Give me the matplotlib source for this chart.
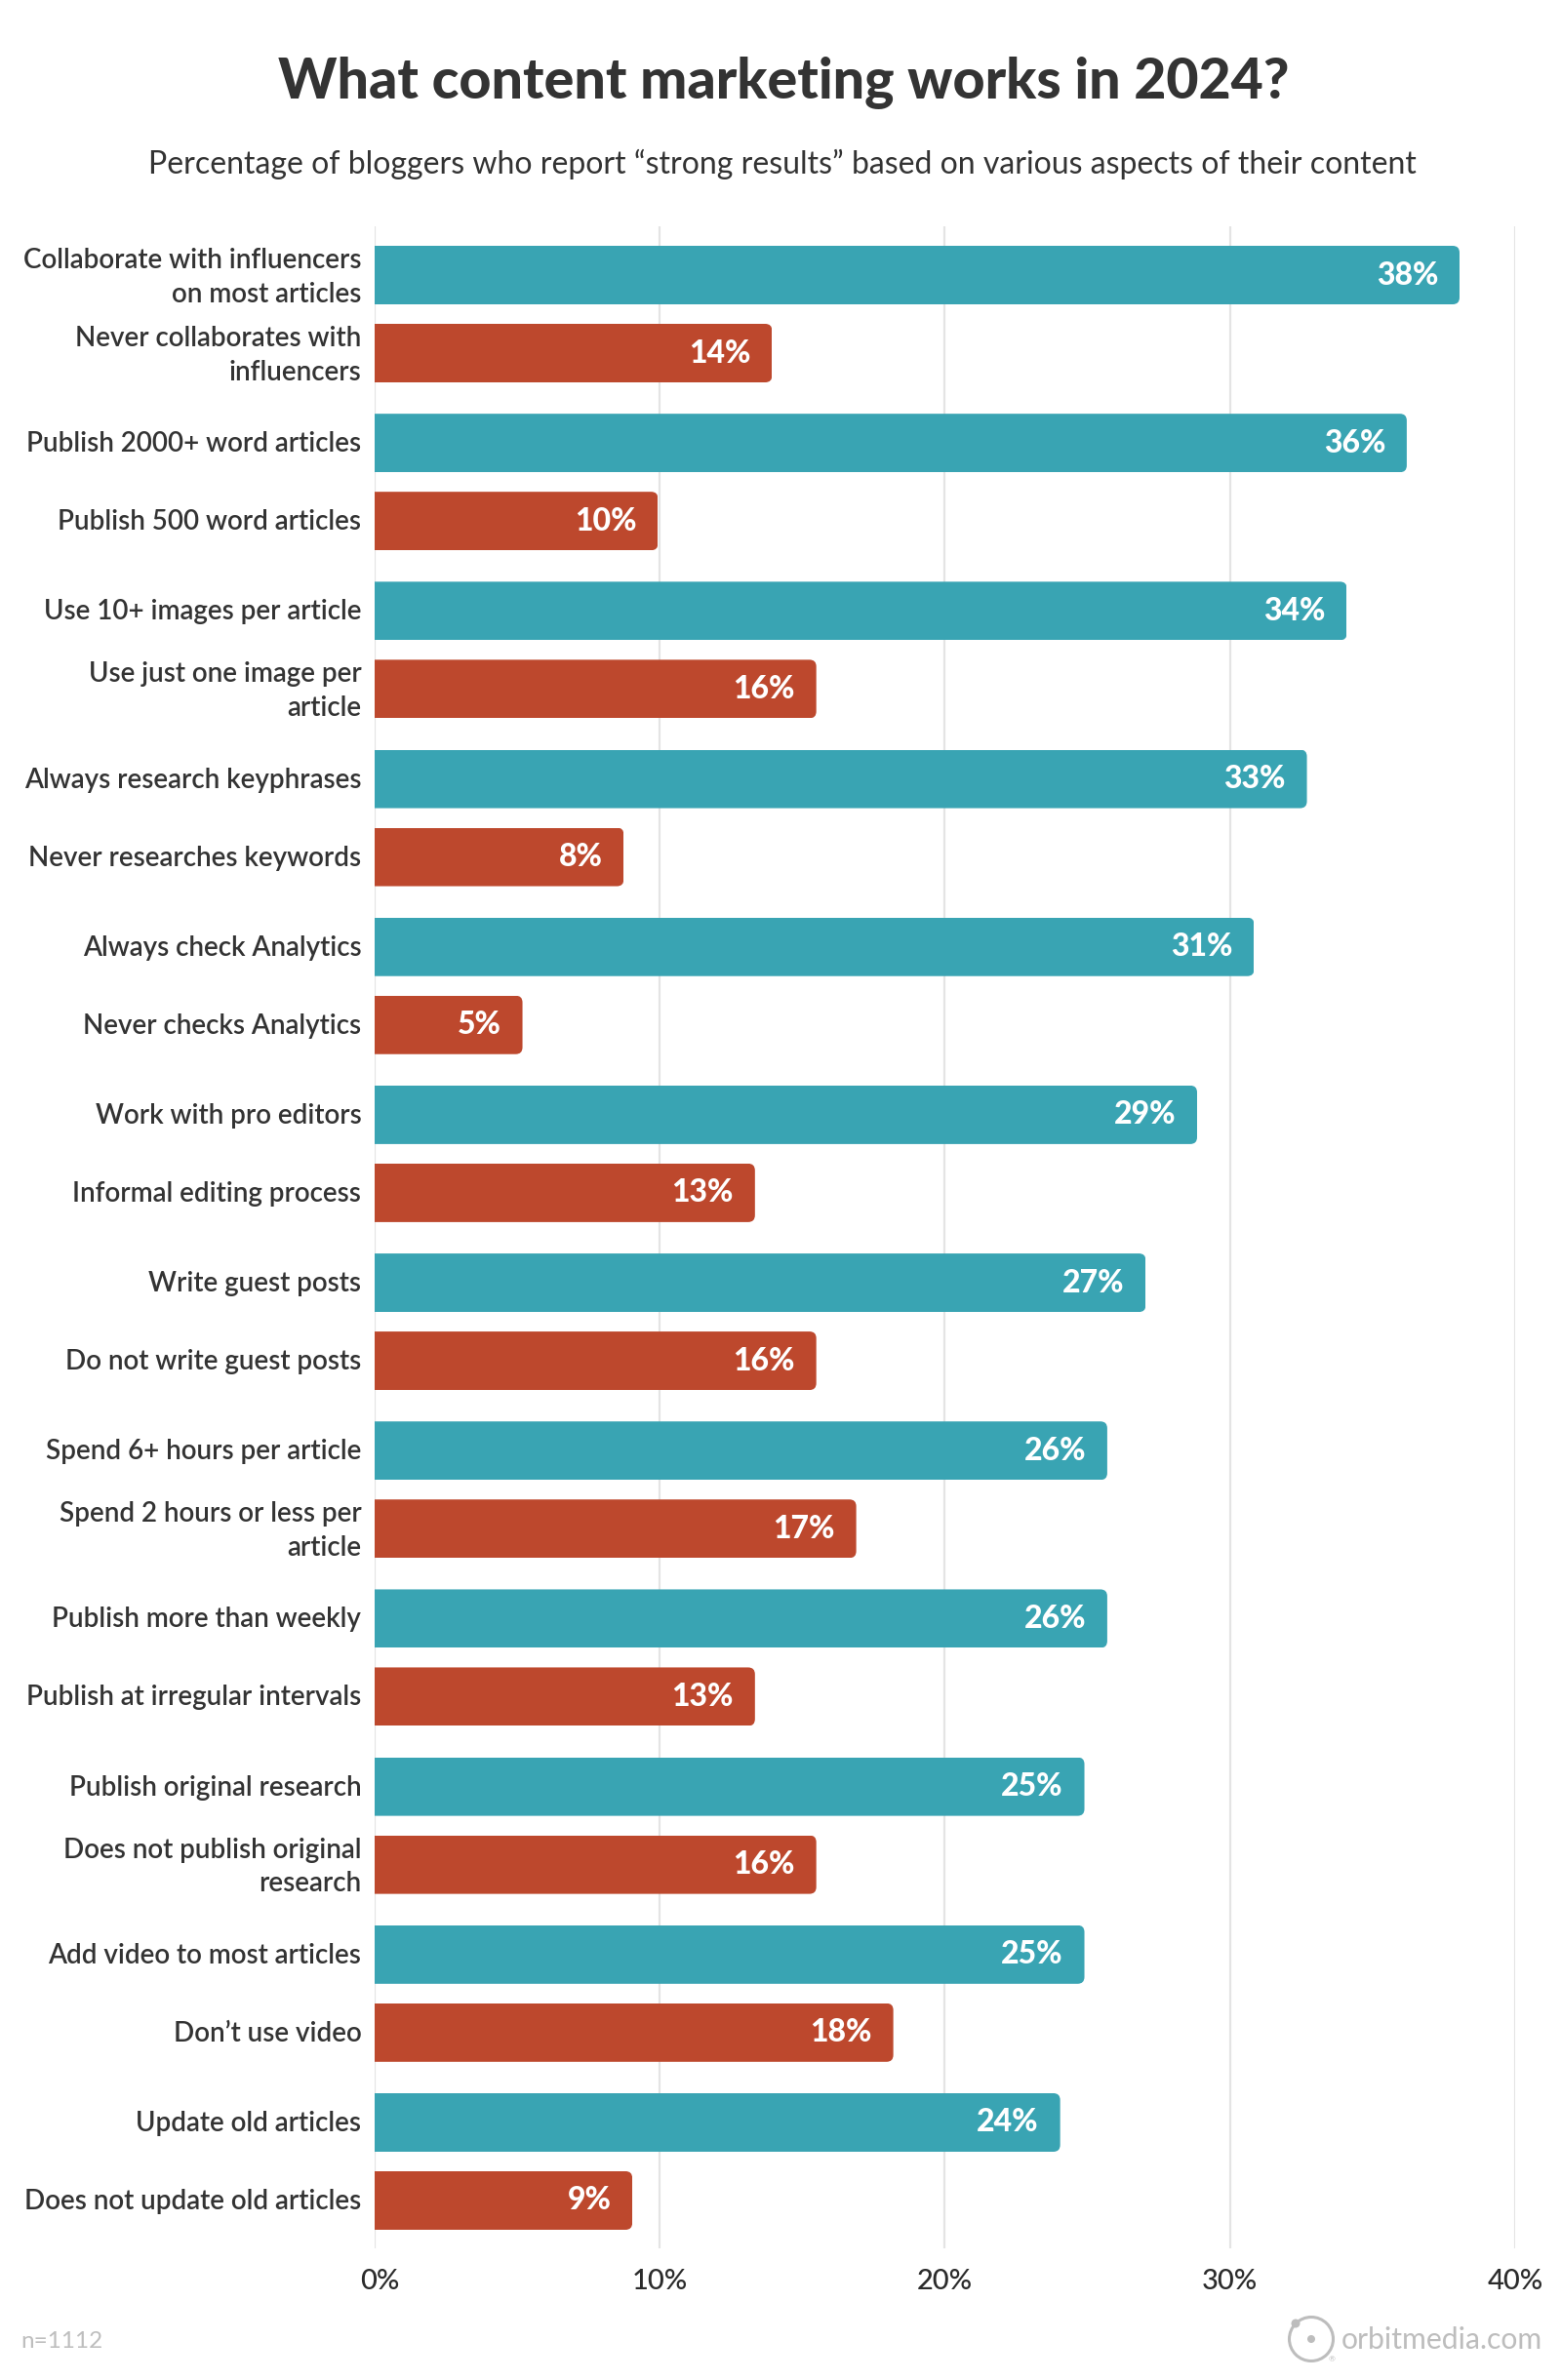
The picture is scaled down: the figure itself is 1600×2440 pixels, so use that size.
import matplotlib
matplotlib.use("Agg")
import matplotlib.pyplot as plt
from matplotlib.path import Path
from matplotlib.patches import Circle
from matplotlib.transforms import ScaledTranslation

title = "What content marketing works in 2024?"
subtitle = "Percentage of bloggers who report “strong results” based on various aspects of their content"

labels_a = ["Collaborate with influencers\non most articles", "Publish 2000+ word articles",
            "Use 10+ images per article", "Always research keyphrases", "Always check Analytics",
            "Work with pro editors", "Write guest posts", "Spend 6+ hours per article",
            "Publish more than weekly", "Publish original research", "Add video to most articles",
            "Update old articles"]
labels_b = ["Never collaborates with\ninfluencers", "Publish 500 word articles",
            "Use just one image per\narticle", "Never researches keywords", "Never checks Analytics",
            "Informal editing process", "Do not write guest posts", "Spend 2 hours or less per\narticle",
            "Publish at irregular intervals", "Does not publish original\nresearch", "Don’t use video",
            "Does not update old articles"]
values_a = [38.05, 36.2, 34.1, 32.7, 30.85, 28.85, 27.05, 25.7, 25.7, 24.9, 24.9, 24.05]
values_b = [13.95, 9.95, 15.5, 8.75, 5.2, 13.35, 15.5, 16.9, 13.35, 15.5, 18.2, 9.05]
shown_a = ["38%", "36%", "34%", "33%", "31%", "29%", "27%", "26%", "26%", "25%", "25%", "24%"]
shown_b = ["14%", "10%", "16%", "8%", "5%", "13%", "16%", "17%", "13%", "16%", "18%", "9%"]
x_ticks = [0, 10, 20, 30, 40]
x_ticklabels = ["0%", "10%", "20%", "30%", "40%"]

W, H = 1600, 2440
TEAL, RED = "#39A4B3", "#BD482D"
DARK = "#333333"
GREY = "#BDBDBD"
FONT = "Lato"

fig = plt.figure(figsize=(W / 100, H / 100), dpi=100, facecolor="white")
L, R, T, B = 383.5, 1553, 232, 2305
ax = fig.add_axes([L / W, 1 - B / H, (R - L) / W, (B - T) / H])
ax.set_xlim(0, 40)
ax.set_ylim(B - T, 0)
for s in ax.spines.values():
    s.set_visible(False)

PITCH, FIRST, STEP, BARH = 172.18, 50, 80, 60
pos_a = [FIRST + i * PITCH for i in range(len(values_a))]
pos_b = [p + STEP for p in pos_a]


def rounded(bar):
    x0, y0, w, h = bar.get_x(), bar.get_y(), bar.get_width(), bar.get_height()
    rx, ry = 7 * 40 / (R - L), 7
    x1, y1 = x0 + w, y0 + h
    return Path([(x0, y0), (x1 - rx, y0), (x1, y0), (x1, y0 + ry), (x1, y1 - ry), (x1, y1),
                 (x1 - rx, y1), (x0, y1), (x0, y0)],
                [Path.MOVETO, Path.LINETO, Path.CURVE3, Path.CURVE3, Path.LINETO, Path.CURVE3,
                 Path.CURVE3, Path.LINETO, Path.CLOSEPOLY])


for pos, vals, shown, col in ((pos_a, values_a, shown_a, TEAL), (pos_b, values_b, shown_b, RED)):
    bars = ax.barh(pos, vals, height=BARH, color=col, zorder=3, linewidth=0)
    for b, p, v, s in zip(bars, pos, vals, shown):
        b.set_clip_path(rounded(b), ax.transData)
        ax.annotate(s, (v, p), xytext=(-15.7, 0), textcoords="offset points", ha="right",
                    va="center", color="white", fontsize=23, fontweight="black",
                    family=FONT, zorder=4)

ax.set_axisbelow(True)
ax.set_xticks(x_ticks, x_ticklabels, fontsize=21, color="#2b2b2b", family=FONT, fontweight="medium")
ax.xaxis.grid(True, color="#E4E4E4", linewidth=1.6)
ax.yaxis.grid(False)
ax.tick_params(axis="x", length=0, pad=15)
ticks_y = pos_a + pos_b
ax.set_yticks(ticks_y, labels_a + labels_b, fontsize=20, color=DARK, family=FONT,
              fontweight="semibold", linespacing=1.42, ha="right", multialignment="right")
ax.tick_params(axis="y", length=0, pad=9.5)
for lab in ax.get_yticklabels():
    lift = 4.5 if "\n" in lab.get_text() else 1.5
    lab.set_transform(lab.get_transform() + ScaledTranslation(0, lift / 100, fig.dpi_scale_trans))
first = ax.get_xticklabels()[0]
first.set_transform(first.get_transform() + ScaledTranslation(6 / 100, 0, fig.dpi_scale_trans))

# page layer in pixel units
pg = fig.add_axes([0, 0, 1, 1], facecolor="none", zorder=5)
pg.set_xlim(0, W)
pg.set_ylim(H, 0)
pg.axis("off")
pg.text(803, 101.5, title, ha="center", va="baseline", fontsize=41.2, fontweight="black",
        color=DARK, family=FONT)
pg.text(802, 177.5, subtitle, ha="center", va="baseline", fontsize=23.05, color=DARK, family=FONT)
pg.text(21, 2407, "n=1112", ha="left", va="baseline", fontsize=17.5, color="#BEBEBE",
        family=FONT, fontweight="normal")
pg.text(1581, 2408, "orbitmedia.com", ha="right", va="baseline", fontsize=21.7, color=GREY, family=FONT)
pg.add_patch(Circle((1344, 2398), 22.5, fill=False, edgecolor=GREY, linewidth=2.2))
pg.add_patch(Circle((1344, 2398), 4, color=GREY, linewidth=0))
pg.add_patch(Circle((1328, 2382), 4.5, color=GREY, linewidth=0))
pg.text(1365, 2419, "®", ha="center", va="center", fontsize=6, color=GREY, family=FONT)

fig.savefig("out.png", dpi=100, facecolor="white")
